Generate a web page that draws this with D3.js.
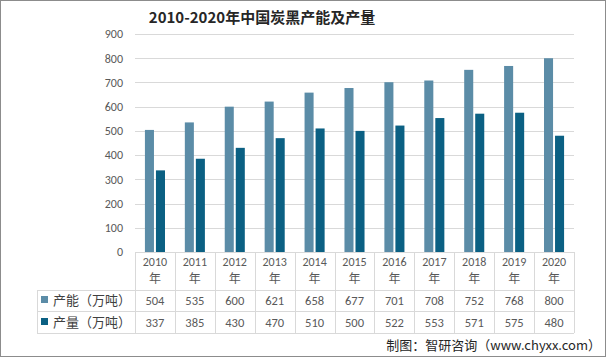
<!DOCTYPE html>
<html><head><meta charset="utf-8">
<script src="https://cdn.jsdelivr.net/npm/d3@7"></script>
<style>
body{margin:0;background:#fff;}
svg{display:block;font-family:"Microsoft YaHei","Noto Sans CJK SC",sans-serif;}
</style></head>
<body><svg id="c" width="606" height="357"></svg>
<script>
const years = ["2010","2011","2012","2013","2014","2015","2016","2017","2018","2019","2020"];
const capacity = [504,535,600,621,658,677,701,708,752,768,800];
const output = [337,385,430,470,510,500,522,553,571,575,480];
const seriesNames = ["产能（万吨）","产量（万吨）"];
const colors = ["#5b8ca7","#0b6083"];
const yTicks = [0,100,200,300,400,500,600,700,800,900];

const svg = d3.select("#c");
svg.append("rect").attr("x",0.5).attr("y",0.5).attr("width",605).attr("height",356)
  .attr("fill","#fff").attr("stroke","#8c8c8c");

const L=135, R=574, T=34, B=252;
const x = d3.scaleBand().domain(years).range([L,R]);
const y = d3.scaleLinear().domain([0,900]).range([B,T]);
const inner = d3.scaleBand().domain([0,1]).range([0,x.bandwidth()]).paddingInner(0.18).paddingOuter(0.9);

svg.append("text").attr("x",262).attr("y",23).attr("text-anchor","middle")
  .attr("font-size",15).attr("font-weight","bold").attr("fill","#262626")
  .text("2010-2020年中国炭黑产能及产量");

const grid = svg.append("g");
grid.selectAll("line").data(yTicks).join("line")
  .attr("x1",L).attr("x2",R).attr("y1",d=>Math.round(y(d))+0.5).attr("y2",d=>Math.round(y(d))+0.5)
  .attr("stroke","#d9d9d9");

const yAxis = d3.axisLeft(y).tickValues(yTicks).tickSize(0).tickPadding(12);
const ya = svg.append("g").attr("transform",`translate(${L},0)`).call(yAxis);
ya.select(".domain").remove();
ya.selectAll("text").attr("fill","#595959").attr("font-size",12).attr("font-family","Calibri,'Liberation Sans',sans-serif");

[capacity,output].forEach((vals,si)=>{
  svg.append("g").selectAll("rect").data(vals).join("rect")
    .attr("x",(d,i)=>x(years[i])+inner(si)).attr("width",inner.bandwidth())
    .attr("y",d=>y(d)).attr("height",d=>B-y(d)).attr("fill",colors[si]);
});

// data table
const tbl = svg.append("g");
const TL = 37;
const lc = "#d9d9d9";
tbl.append("line").attr("x1",L).attr("x2",R).attr("y1",B+0.5).attr("y2",B+0.5).attr("stroke",lc);
[290,311,333].forEach(yy=>tbl.append("line").attr("x1",TL).attr("x2",R).attr("y1",yy+0.5).attr("y2",yy+0.5).attr("stroke",lc));
tbl.append("line").attr("x1",TL+0.5).attr("x2",TL+0.5).attr("y1",290).attr("y2",333).attr("stroke",lc);
years.forEach(yr=>{
  const xx = Math.round(x(yr))+0.5;
  tbl.append("line").attr("x1",xx).attr("x2",xx).attr("y1",B).attr("y2",333).attr("stroke",lc);
});
tbl.append("line").attr("x1",R+0.5).attr("x2",R+0.5).attr("y1",B).attr("y2",333).attr("stroke",lc);

years.forEach(yr=>{
  const cx = x(yr)+x.bandwidth()/2;
  tbl.append("text").attr("x",cx).attr("y",266).attr("text-anchor","middle")
    .attr("font-size",12).attr("fill","#595959").attr("font-family","Calibri,'Liberation Sans',sans-serif").text(yr);
  tbl.append("text").attr("x",cx).attr("y",283).attr("text-anchor","middle")
    .attr("font-size",12).attr("fill","#595959").text("年");
});
[capacity,output].forEach((vals,si)=>{
  const ty = si===0?305:327;
  tbl.append("rect").attr("x",41).attr("y",ty-9).attr("width",7).attr("height",7).attr("fill",colors[si]);
  tbl.append("text").attr("x",53).attr("y",ty).attr("font-size",13).attr("fill","#404040").text(seriesNames[si]);
  vals.forEach((v,i)=>{
    tbl.append("text").attr("x",x(years[i])+x.bandwidth()/2).attr("y",ty).attr("text-anchor","middle")
      .attr("font-size",12.5).attr("fill","#595959").attr("font-family","Calibri,'Liberation Sans',sans-serif").text(v);
  });
});

svg.append("text").attr("x",601).attr("y",350).attr("text-anchor","end")
  .attr("font-size",13).attr("fill","#262626").text("制图：智研咨询（www.chyxx.com）");
</script></body></html>
